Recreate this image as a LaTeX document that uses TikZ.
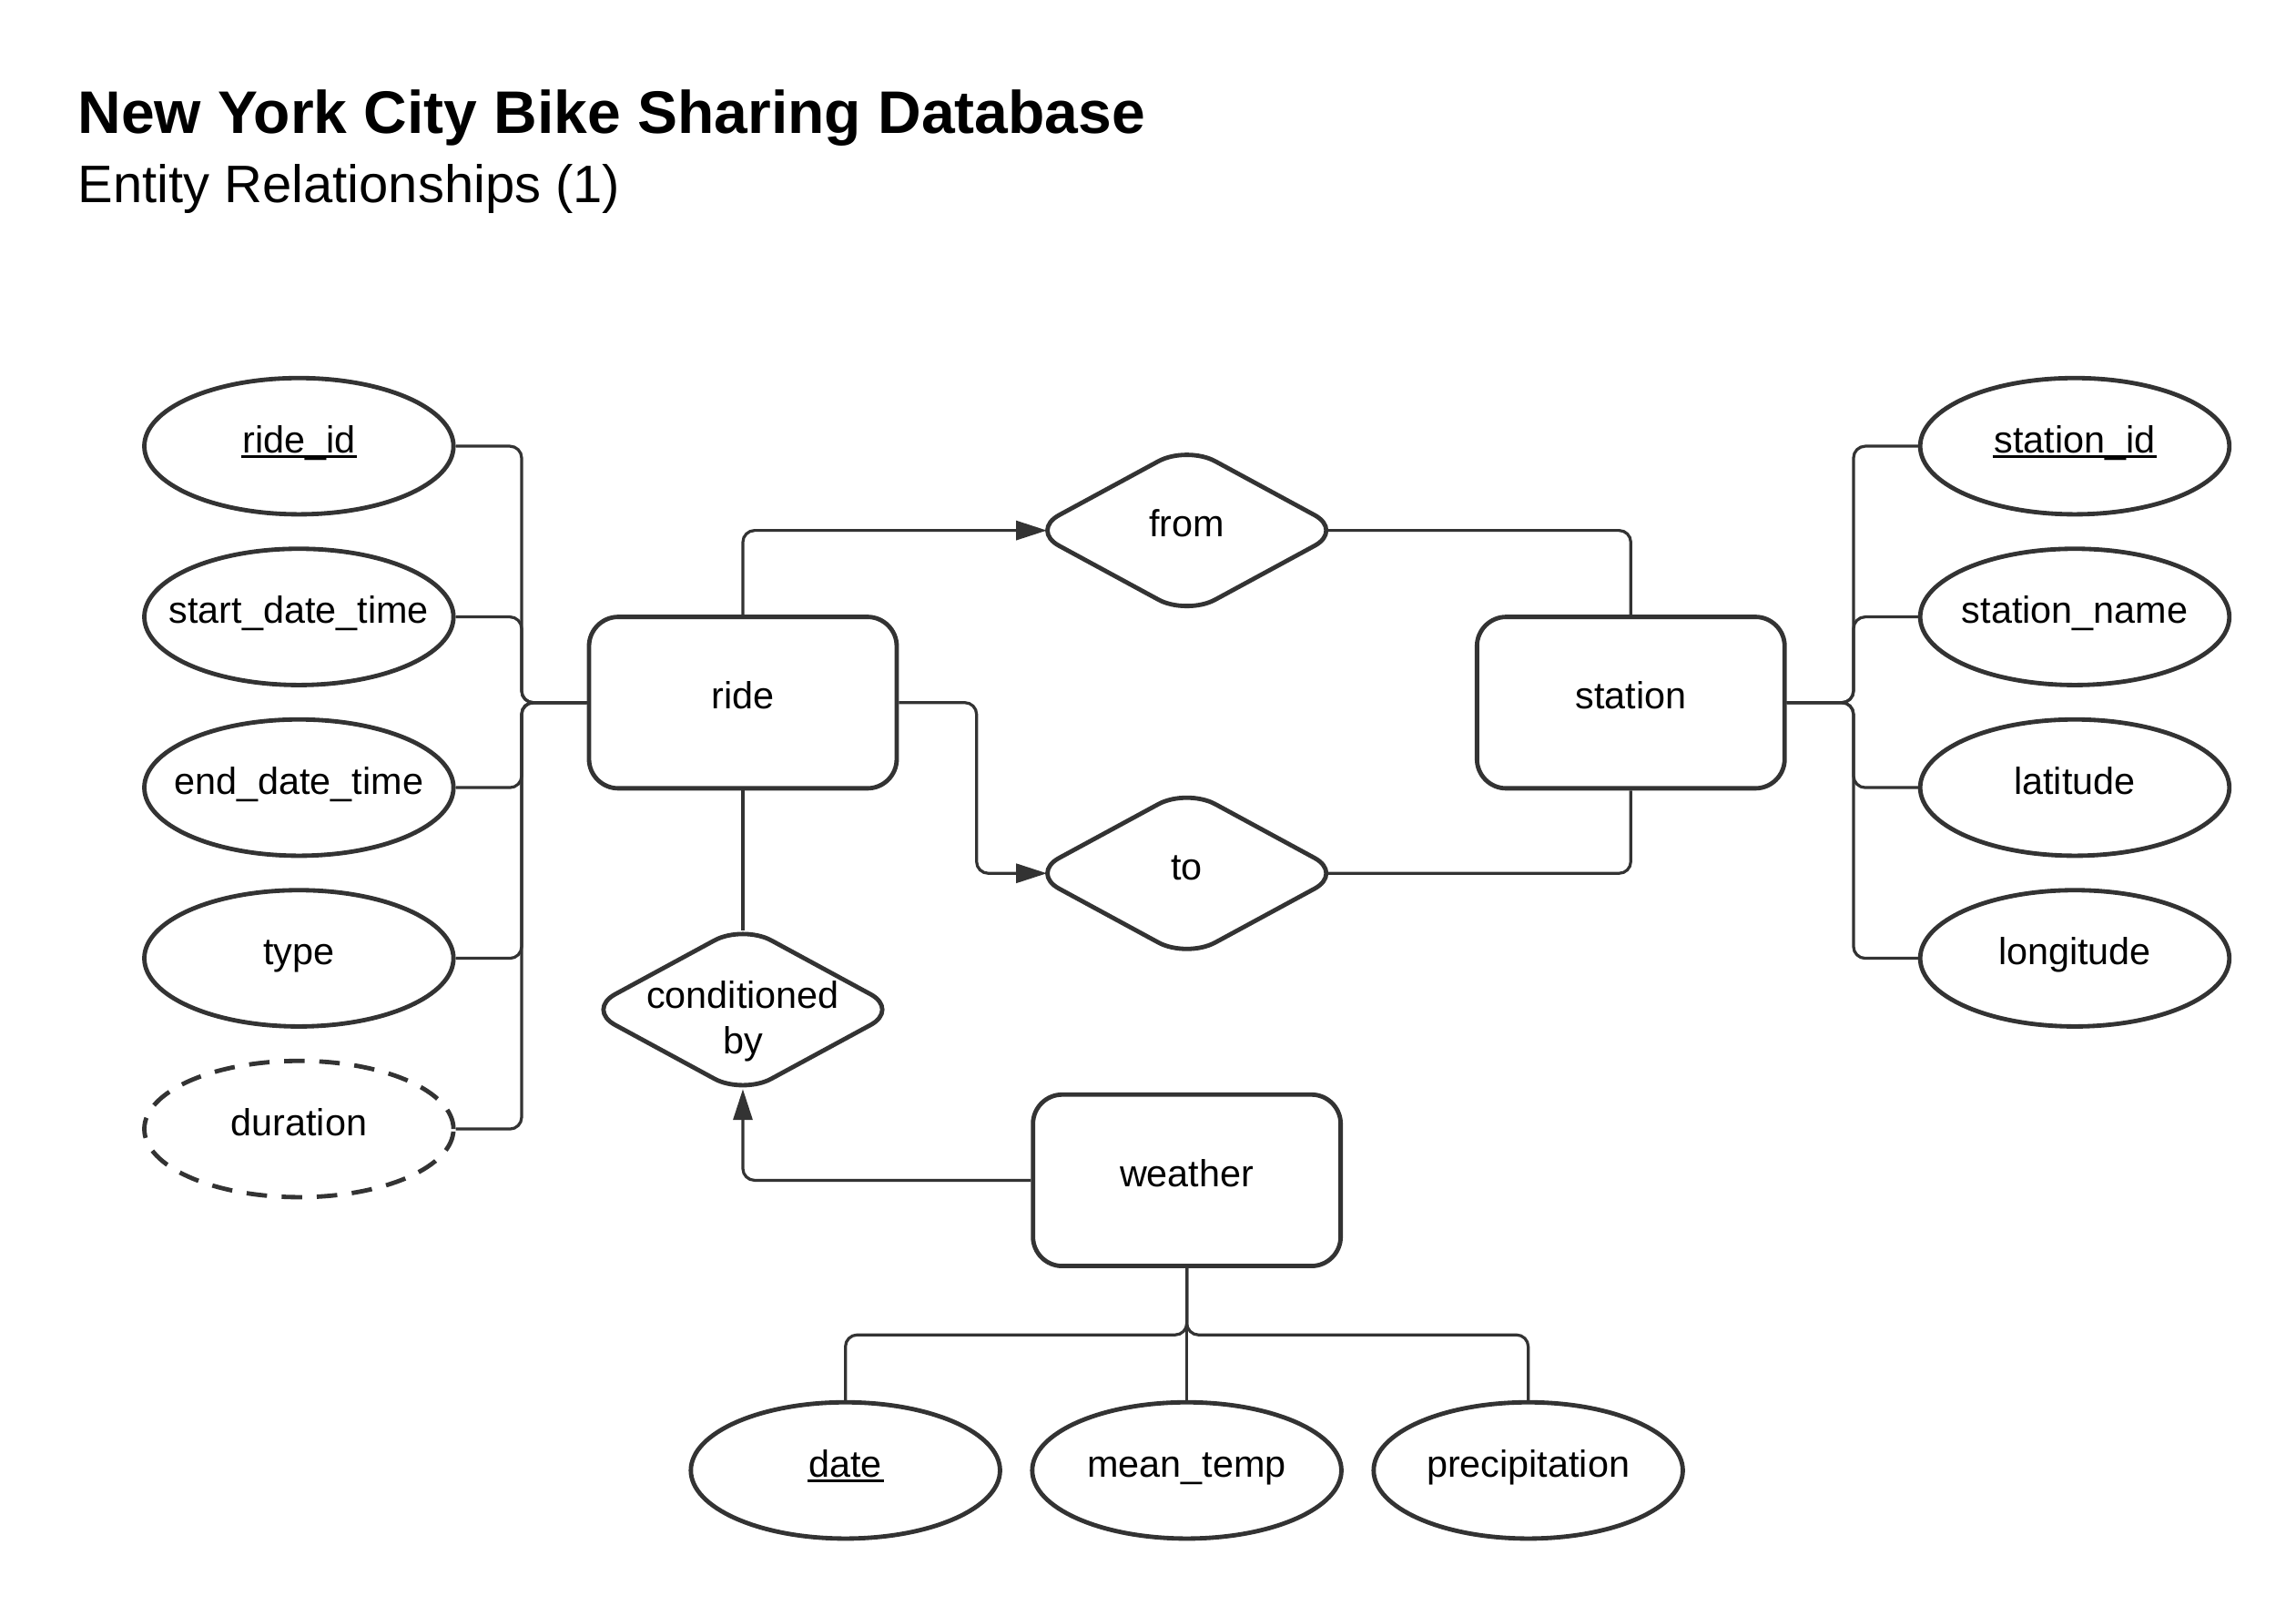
\documentclass[tikz,border=0pt]{standalone}
\usepackage{fontspec}
\setmainfont{Liberation Sans}
\usetikzlibrary{shapes.geometric,arrows.meta}
\definecolor{ln}{HTML}{333333}
\newcommand\attrtext[1]{\makebox[0pt]{#1}}
\newcommand\keyattr[1]{\setbox0\hbox{#1}\rlap{\hspace{-1pt}\rule[-3.4pt]{\dimexpr\wd0+2pt\relax}{1.9pt}}\box0}
\begin{document}
\begin{tikzpicture}[x=1pt,y=-1pt,
  every node/.style={font=\fontsize{25.7}{31}\selectfont, text=black},
  lbl/.style={text height=20pt, text depth=11.3pt},
  attr/.style={lbl, ellipse, draw=ln, line width=3pt, minimum width=211pt, minimum height=93pt, inner sep=0pt},
  derived/.style={attr, dash pattern=on 14pt off 10pt},
  entity/.style={lbl, rectangle, draw=ln, line width=3pt, rounded corners=20pt, minimum width=210pt, minimum height=117pt, inner sep=0pt},
  rel/.style={lbl, diamond, draw=ln, line width=3pt, rounded corners=22pt, minimum width=214.2pt, minimum height=116.7pt, inner sep=0pt},
  conn/.style={draw=ln, line width=2pt, rounded corners=8pt},
  arr/.style={conn, -{Triangle[length=21pt,width=13pt]}},
]
\useasboundingbox (0,0) rectangle (1567,1096);

% titles
\node[anchor=base west, inner sep=0pt, font=\fontsize{41}{49}\selectfont\bfseries] (title) at (53,91) {New York City Bike Sharing Database};
\node[anchor=base west, inner sep=0pt, font=\fontsize{36}{43}\selectfont] (subtitle) at (53,138) {Entity Relationships (1)};

% entities
\node[entity] (ride) at (507,479.5) {ride};
\node[entity] (station) at (1113,479.5) {station};
\node[entity] (weather) at (810,805.5) {weather};

% relationships
\node[rel] (from) at (810,362) {from};
\node[rel] (to) at (810,596) {to};
\node[rel, text height=0pt, text depth=0pt] (cb) at (507,689) {\attrtext{\raisebox{1pt}[0pt][0pt]{\begin{tabular}[t]{@{}c@{}}conditioned\\by\end{tabular}}}};

% ride attributes
\node[attr] (rid) at (204,304.5) {\attrtext{\keyattr{ride\_id}}};
\node[attr] (sdt) at (204,421) {\attrtext{start\_date\_time}};
\node[attr] (edt) at (204,537.5) {\attrtext{end\_date\_time}};
\node[attr] (typ) at (204,654) {\attrtext{type}};
\node[derived] (dur) at (204,770.5) {\attrtext{duration}};

% station attributes
\node[attr] (sid) at (1416,304.5) {\attrtext{\keyattr{station\_id}}};
\node[attr] (snm) at (1416,421) {\attrtext{station\_name}};
\node[attr] (lat) at (1416,537.5) {\attrtext{latitude}};
\node[attr] (lon) at (1416,654) {\attrtext{longitude}};

% weather attributes
\node[attr] (date) at (577,1003.5) {\attrtext{\keyattr{date}}};
\node[attr] (mt) at (810,1003.5) {\attrtext{mean\_temp}};
\node[attr] (prec) at (1043,1003.5) {\attrtext{precipitation}};

% buses
\coordinate (lb) at (356,479.5);
\coordinate (rb) at (1265,479.5);
\coordinate (wb) at (810,911);

\foreach \a in {rid,sdt,edt,typ,dur} \draw[conn] (\a.east) -| (lb) -- (ride.west);
\foreach \a in {sid,snm,lat,lon} \draw[conn] (station.east) -- (rb) |- (\a.west);
\draw[conn] (weather.south) -- (wb) -| (date.north);
\draw[conn] (weather.south) -- (wb) -| (prec.north);
\draw[conn] (weather.south) -- (mt.north);

% relationship connectors
\draw[arr] (ride.north) |- ([xshift=13.1pt]from.west);
\draw[conn] ([xshift=-13.1pt]from.east) -| (station.north);
\draw[arr] (ride.east) -- ++(53,0) |- ([xshift=13.1pt]to.west);
\draw[conn] ([xshift=-13.1pt]to.east) -| (station.south);
\draw[conn] (ride.south) -- ([yshift=-5.6pt]cb.north);
\draw[arr] (weather.west) -| ([yshift=5.6pt]cb.south);
\end{tikzpicture}
\end{document}
